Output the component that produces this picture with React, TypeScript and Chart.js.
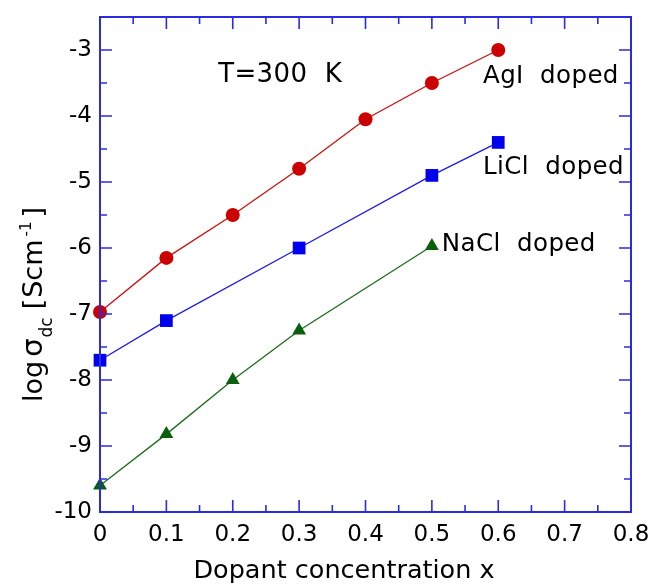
import React, { useEffect, useRef } from "react";
import { Chart, registerables } from "chart.js";

Chart.register(...registerables);

const X_AGI = [0, 0.1, 0.2, 0.3, 0.4, 0.5, 0.6];
const Y_AGI = [-6.97, -6.15, -5.5, -4.8, -4.05, -3.5, -3.0];
const X_LICL = [0, 0.1, 0.3, 0.5, 0.6];
const Y_LICL = [-7.7, -7.1, -6.0, -4.9, -4.4];
const X_NACL = [0, 0.1, 0.2, 0.3, 0.5];
const Y_NACL = [-9.6, -8.82, -8.0, -7.25, -5.97];

const X_TICKS = [0, 0.1, 0.2, 0.3, 0.4, 0.5, 0.6, 0.7, 0.8];
const Y_TICKS = [-10, -9, -8, -7, -6, -5, -4, -3];
const X_MINOR = [0.05, 0.15, 0.25, 0.35, 0.45, 0.55, 0.65, 0.75];
const Y_MINOR = [-9.5, -8.5, -7.5, -6.5, -5.5, -4.5, -3.5, -2.5];

const NOTES = [
  { text: "T=300  K", x: 0.178, y: -3.38, size: 26 },
  { text: "AgI  doped", x: 0.577, y: -3.41, size: 24.5 },
  { text: "LiCl  doped", x: 0.577, y: -4.79, size: 24.5 },
  { text: "NaCl  doped", x: 0.515, y: -5.95, size: 24.5 },
];

const AXIS_COLOR = "#2b2bdf";
const FONT = "'DejaVu Sans', sans-serif";

const pts = (xs: number[], ys: number[]) => xs.map((x, i) => ({ x, y: ys[i] }));

export default function App() {
  const ref = useRef<HTMLCanvasElement>(null);
  useEffect(() => {
    document.body.style.margin = "0";
    const frame = {
      id: "frame",
      afterDraw(chart: any) {
        const { ctx, chartArea: a, scales } = chart;
        const xs = scales.x, ys = scales.y;
        ctx.save();
        ctx.strokeStyle = AXIS_COLOR;
        ctx.lineWidth = 2;
        ctx.strokeRect(a.left, a.top, a.right - a.left, a.bottom - a.top);
        ctx.lineWidth = 1.6;
        const tick = (vals: number[], len: number) => {
          vals.forEach((v) => {
            const px = xs.getPixelForValue(v);
            ctx.beginPath();
            ctx.moveTo(px, a.bottom); ctx.lineTo(px, a.bottom - len);
            ctx.moveTo(px, a.top); ctx.lineTo(px, a.top + len);
            ctx.stroke();
          });
        };
        const ytick = (vals: number[], len: number) => {
          vals.forEach((v) => {
            const py = ys.getPixelForValue(v);
            ctx.beginPath();
            ctx.moveTo(a.left, py); ctx.lineTo(a.left + len, py);
            ctx.moveTo(a.right, py); ctx.lineTo(a.right - len, py);
            ctx.stroke();
          });
        };
        tick(X_TICKS, 12); tick(X_MINOR, 7);
        ytick(Y_TICKS, 12); ytick(Y_MINOR, 7);

        // annotations
        ctx.fillStyle = "#000";
        ctx.textBaseline = "middle";
        ctx.textAlign = "left";
        ctx.letterSpacing = "0.4px";
        NOTES.forEach((n) => {
          ctx.font = n.size + "px " + FONT;
          ctx.fillText(n.text, xs.getPixelForValue(n.x), ys.getPixelForValue(n.y));
        });
        ctx.letterSpacing = "0px";

        // x title
        ctx.font = "25.5px " + FONT;
        ctx.textAlign = "center";
        ctx.textBaseline = "alphabetic";
        ctx.fillText("Dopant concentration x", 344, 578);

        // y title, rotated with sub/superscript
        ctx.translate(42, 402);
        ctx.rotate(-Math.PI / 2);
        ctx.textAlign = "left";
        const parts = [
          { t: "log", s: 27, dy: 0, gap: 0 },
          { t: "\u03c3", s: 29, dy: 0, gap: 4 },
          { t: "dc", s: 17, dy: 10, gap: 1 },
          { t: "[", s: 27, dy: 0, gap: 8 },
          { t: "Scm", s: 27, dy: 0, gap: 1 },
          { t: "-1", s: 15, dy: -11, gap: 3 },
          { t: "]", s: 27, dy: 0, gap: 4 },
        ];
        let cx = 0;
        parts.forEach((p) => {
          cx += p.gap;
          ctx.font = p.s + "px " + FONT;
          ctx.fillText(p.t, cx, p.dy);
          cx += ctx.measureText(p.t).width;
        });
        ctx.restore();
      },
    };

    const chart = new Chart(ref.current!, {
      type: "scatter",
      data: {
        datasets: [
          {
            data: pts(X_AGI, Y_AGI), showLine: true, borderColor: "#cc1010", backgroundColor: "#cc0000",
            borderWidth: 1.3, pointStyle: "circle", pointRadius: 7, pointBorderWidth: 0, clip: false,
          },
          {
            data: pts(X_LICL, Y_LICL), showLine: true, borderColor: "#1a1aee", backgroundColor: "#0000ee",
            borderWidth: 1.3, pointStyle: "rect", pointRadius: 9, pointBorderWidth: 0, clip: false,
          },
          {
            data: pts(X_NACL, Y_NACL), showLine: true, borderColor: "#1e6b1e", backgroundColor: "#0b5e0b",
            borderWidth: 1.3, pointStyle: "triangle", pointRadius: 8, pointBorderWidth: 0, clip: false,
          },
        ],
      },
      options: {
        animation: false,
        responsive: false,
        layout: { padding: { top: 17, right: 18, left: 0, bottom: 0 } },
        plugins: { legend: { display: false }, tooltip: { enabled: false } },
        scales: {
          x: {
            type: "linear", min: 0, max: 0.8,
            afterBuildTicks: (s: any) => { s.ticks = X_TICKS.map((v) => ({ value: v })); },
            afterFit: (s: any) => { s.height = 73; s.paddingLeft = 0; s.paddingRight = 0; },
            grid: { display: false, drawTicks: false },
            border: { display: false },
            ticks: {
              color: "#000", font: { family: FONT, size: 23 }, padding: 9, maxRotation: 0,
              callback: (v: any) => String(Math.round(Number(v) * 10) / 10),
            },
          },
          y: {
            type: "linear", min: -10, max: -2.5,
            afterBuildTicks: (s: any) => { s.ticks = Y_TICKS.map((v) => ({ value: v })); },
            afterFit: (s: any) => { s.width = 100; s.paddingTop = 0; s.paddingBottom = 0; },
            grid: { display: false, drawTicks: false },
            border: { display: false },
            ticks: { color: "#000", font: { family: FONT, size: 23 }, padding: 8 },
          },
        },
      },
      plugins: [frame],
    } as any);
    return () => chart.destroy();
  }, []);
  return <canvas ref={ref} width={649} height={585} style={{ display: "block" }} />;
}
